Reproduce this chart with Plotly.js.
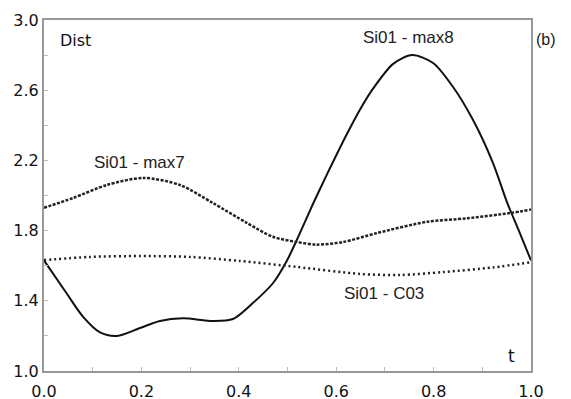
<!DOCTYPE html>
<html>
<head>
<meta charset="utf-8">
<script src="https://cdn.plot.ly/plotly-3.0.1.min.js"></script>
<style>html,body{margin:0;padding:0;background:#fff;}#chart{width:571px;height:399px;}</style>
</head>
<body>
<div id="chart"></div>
<script>
// Si01 - max8 (solid)
const tMax8 = [0, 0.047, 0.08, 0.115, 0.15, 0.197, 0.238, 0.285, 0.347, 0.388, 0.43, 0.47, 0.499, 0.519, 0.552, 0.581, 0.622, 0.649, 0.676, 0.717, 0.756, 0.799, 0.84, 0.881, 0.922, 0.951, 0.975, 1.0];
const vMax8 = [1.63, 1.44, 1.31, 1.22, 1.20, 1.245, 1.285, 1.30, 1.285, 1.296, 1.39, 1.50, 1.63, 1.746, 1.95, 2.12, 2.35, 2.49, 2.61, 2.75, 2.80, 2.755, 2.618, 2.43, 2.185, 1.96, 1.80, 1.63];
// Si01 - max7 (dashed)
const tMax7 = [0, 0.06, 0.129, 0.204, 0.279, 0.347, 0.417, 0.47, 0.519, 0.56, 0.614, 0.684, 0.786, 0.869, 0.957, 1.0];
const vMax7 = [1.93, 1.986, 2.06, 2.10, 2.06, 1.957, 1.843, 1.765, 1.735, 1.72, 1.735, 1.786, 1.85, 1.87, 1.90, 1.92];
// Si01 - C03 (dotted)
const tC03 = [0, 0.094, 0.197, 0.30, 0.402, 0.519, 0.649, 0.731, 0.82, 0.922, 1.0];
const vC03 = [1.632, 1.65, 1.655, 1.65, 1.627, 1.593, 1.553, 1.547, 1.564, 1.59, 1.62];

const seriesNames = ["Si01 - max8", "Si01 - max7", "Si01 - C03"];

const traces = [
  {x: tMax8, y: vMax8, mode: "lines", name: seriesNames[0], line: {color: "#111", width: 2, shape: "spline", smoothing: 0.8}},
  {x: tMax7, y: vMax7, mode: "lines", name: seriesNames[1], line: {color: "#222", width: 2.5, dash: "3px,1.5px", shape: "spline", smoothing: 0.8}},
  {x: tC03, y: vC03, mode: "lines", name: seriesNames[2], line: {color: "#222", width: 2.5, dash: "2px,3px", shape: "spline", smoothing: 0.8}}
];

const annFont = {family: "Liberation Sans, Arial, sans-serif", size: 17, color: "#222"};
const layout = {
  width: 571, height: 399,
  margin: {l: 44, r: 40, t: 20, b: 28},
  paper_bgcolor: "#fff", plot_bgcolor: "#fff",
  showlegend: false,
  font: {family: "DejaVu Sans, Verdana, sans-serif", size: 16, color: "#111"},
  xaxis: {
    range: [0, 1], tick0: 0, dtick: 0.2, tickformat: ".1f",
    showgrid: false, zeroline: false,
    showline: true, mirror: true, linecolor: "#999", linewidth: 2,
    ticks: "inside", ticklen: 4, tickcolor: "#bbb", tickwidth: 1,
    ticklabelstandoff: 5,
    minor: {dtick: 0.1, ticks: "inside", ticklen: 4, tickcolor: "#bbb", showgrid: false},
    tickfont: {family: "DejaVu Sans, Verdana, sans-serif", size: 16, color: "#111"}
  },
  yaxis: {
    range: [1, 3], tick0: 1, dtick: 0.4, tickformat: ".1f",
    showgrid: false, zeroline: false,
    showline: true, mirror: true, linecolor: "#999", linewidth: 2,
    ticks: "inside", ticklen: 4, tickcolor: "#bbb", tickwidth: 1,
    minor: {dtick: 0.2, ticks: "inside", ticklen: 4, tickcolor: "#bbb", showgrid: false},
    tickfont: {family: "DejaVu Sans, Verdana, sans-serif", size: 16, color: "#111"}
  },
  annotations: [
    {x: 0.029, y: 2.886, xref: "x", yref: "y", text: "Dist", showarrow: false, xanchor: "left",
     font: {family: "DejaVu Sans, Verdana, sans-serif", size: 16, color: "#111"}},
    {x: 0.749, y: 2.903, xref: "x", yref: "y", text: seriesNames[0], showarrow: false, font: annFont},
    {x: 0.197, y: 2.19, xref: "x", yref: "y", text: seriesNames[1], showarrow: false, font: annFont},
    {x: 0.698, y: 1.444, xref: "x", yref: "y", text: seriesNames[2], showarrow: false, font: annFont},
    {x: 0.959, y: 1.085, xref: "x", yref: "y", text: "t", showarrow: false,
     font: {family: "DejaVu Sans, Verdana, sans-serif", size: 17, color: "#111"}},
    {x: 1.055, y: 0.974, xref: "paper", yref: "paper", text: "(b)", showarrow: false,
     font: {family: "Liberation Sans, Arial, sans-serif", size: 16, color: "#222"}}
  ]
};

Plotly.newPlot("chart", traces, layout, {displayModeBar: false, staticPlot: true});
</script>
</body>
</html>
